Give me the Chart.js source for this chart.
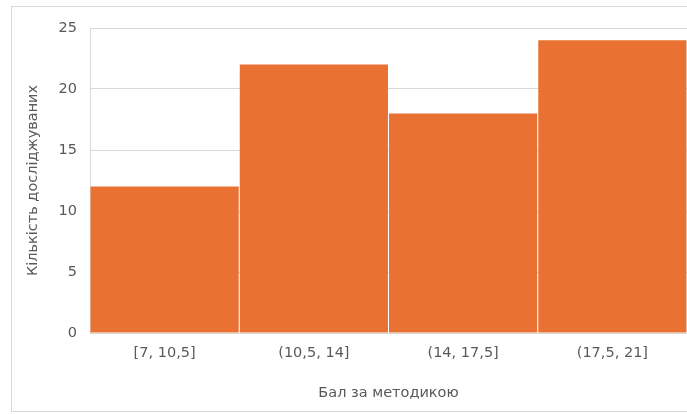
<!DOCTYPE html>
<html>
<head>
<meta charset="utf-8">
<script src="https://cdn.jsdelivr.net/npm/chart.js@4"></script>
<style>
html,body{margin:0;padding:0;background:#fff}
#wrap{position:relative;width:687px;height:414px}
#frame{position:absolute;left:11px;top:6px;width:690px;height:406px;border:1px solid #d9d9d9;box-sizing:border-box}
canvas{position:absolute;left:0;top:0}
</style>
</head>
<body>
<div id="wrap"><div id="frame"></div><canvas id="c" width="687" height="414"></canvas></div>
<script>
// інтервали балів і кількість досліджуваних
const bins=['[7, 10,5]','(10,5, 14]','(14, 17,5]','(17,5, 21]'];
const counts=[12,22,18,24];
const yTicks=[0,5,10,15,20,25];

const FONT={family:'"DejaVu Sans", sans-serif',size:14.5};
const MUTED='#595959';

new Chart(document.getElementById('c'),{
  type:'bar',
  data:{labels:bins,datasets:[{data:counts,backgroundColor:'#E97132',borderWidth:0,categoryPercentage:1,barPercentage:0.993}]},
  options:{
    responsive:false,animation:false,
    layout:{padding:{left:25,top:28,right:0,bottom:12}},
    plugins:{legend:{display:false},tooltip:{enabled:false}},
    scales:{
      x:{
        grid:{display:false,drawTicks:false},
        border:{display:true,color:'#d9d9d9'},
        ticks:{color:MUTED,font:FONT,padding:12,maxRotation:0},
        title:{display:true,text:'Бал за методикою',color:MUTED,font:FONT,padding:0},
        afterFit:s=>{s.height=69}
      },
      y:{
        min:0,max:25,
        afterBuildTicks:s=>{s.ticks=yTicks.map(v=>({value:v}))},
        grid:{color:'#d9d9d9',drawTicks:false},
        border:{display:true,color:'#d9d9d9'},
        ticks:{color:MUTED,font:FONT,padding:13},
        title:{display:true,text:'Кількість досліджуваних',color:MUTED,font:FONT,padding:0},
        afterFit:s=>{s.width=65}
      }
    }
  }
});
</script>
</body>
</html>
